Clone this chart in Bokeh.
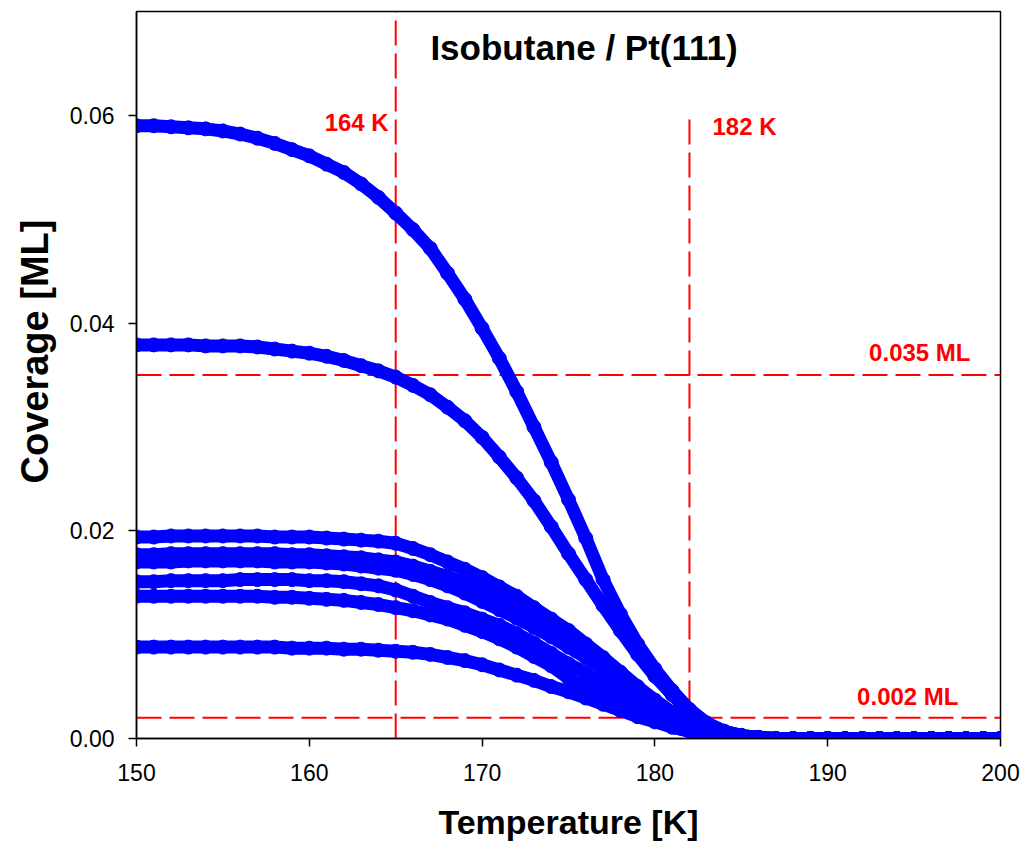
from bokeh.plotting import figure
from bokeh.models import Label, Title, FixedTicker, PrintfTickFormatter, Range1d, ColumnDataSource
from bokeh.embed import file_html
from bokeh.resources import INLINE

# ---- data ----
temperature = list(range(150, 201))  # K

zeros14 = [0.0] * 14  # 187 .. 200 K

cov_059 = [0.0590, 0.0590, 0.0589, 0.0588, 0.0587, 0.0585, 0.0582, 0.0578, 0.0573, 0.0567,
           0.0561, 0.0553, 0.0545, 0.0534, 0.0521, 0.0506, 0.0490, 0.0472, 0.0448, 0.0423,
           0.0395, 0.0366, 0.0334, 0.0300, 0.0266, 0.0230, 0.0193, 0.0153, 0.0120, 0.0091,
           0.0067, 0.0046, 0.0028, 0.0015, 0.0007, 0.0003, 0.0001] + zeros14
cov_038 = [0.0379, 0.0379, 0.0379, 0.0379, 0.0378, 0.0378, 0.0378, 0.0377, 0.0375, 0.0373,
           0.0371, 0.0368, 0.0364, 0.0359, 0.0354, 0.0348, 0.0340, 0.0331, 0.0319, 0.0306,
           0.0290, 0.0271, 0.0251, 0.0229, 0.0204, 0.0178, 0.0153, 0.0128, 0.0104, 0.0081,
           0.0060, 0.0042, 0.0026, 0.0014, 0.0007, 0.0003, 0.0001] + zeros14
cov_0194 = [0.0194, 0.0194, 0.0195, 0.0195, 0.0195, 0.0195, 0.0195, 0.0195, 0.0194, 0.0194,
            0.0194, 0.0193, 0.0192, 0.0191, 0.0190, 0.0188, 0.0183, 0.0177, 0.0170, 0.0163,
            0.0155, 0.0146, 0.0137, 0.0126, 0.0115, 0.0104, 0.0091, 0.0078, 0.0064, 0.0050,
            0.0037, 0.0025, 0.0015, 0.0008, 0.0004, 0.0002, 0.0001] + zeros14
cov_0177 = [0.0177, 0.0177, 0.0178, 0.0178, 0.0178, 0.0178, 0.0178, 0.0178, 0.0178, 0.0177,
            0.0177, 0.0176, 0.0175, 0.0174, 0.0172, 0.0170, 0.0166, 0.0161, 0.0156, 0.0150,
            0.0144, 0.0137, 0.0129, 0.0120, 0.0110, 0.0099, 0.0087, 0.0075, 0.0062, 0.0049,
            0.0036, 0.0025, 0.0015, 0.0008, 0.0004, 0.0002, 0.0001] + zeros14
cov_0170 = [0.0170, 0.0170, 0.0170, 0.0171, 0.0171, 0.0171, 0.0171, 0.0171, 0.0170, 0.0170,
            0.0170, 0.0169, 0.0168, 0.0166, 0.0164, 0.0162, 0.0158, 0.0153, 0.0147, 0.0140,
            0.0132, 0.0124, 0.0116, 0.0107, 0.0098, 0.0088, 0.0078, 0.0067, 0.0055, 0.0043,
            0.0032, 0.0022, 0.0014, 0.0008, 0.0004, 0.0002, 0.0001] + zeros14
cov_0151 = [0.0151, 0.0151, 0.0152, 0.0152, 0.0152, 0.0152, 0.0153, 0.0153, 0.0153, 0.0153,
            0.0152, 0.0152, 0.0151, 0.0149, 0.0147, 0.0143, 0.0137, 0.0131, 0.0126, 0.0121,
            0.0115, 0.0109, 0.0101, 0.0092, 0.0082, 0.0072, 0.0063, 0.0053, 0.0043, 0.0033,
            0.0024, 0.0016, 0.0010, 0.0005, 0.0002, 0.0001, 0.0000] + zeros14
cov_0137 = [0.0137, 0.0137, 0.0137, 0.0137, 0.0137, 0.0137, 0.0137, 0.0137, 0.0136, 0.0136,
            0.0135, 0.0134, 0.0133, 0.0131, 0.0129, 0.0126, 0.0123, 0.0119, 0.0115, 0.0109,
            0.0103, 0.0096, 0.0088, 0.0079, 0.0070, 0.0058, 0.0049, 0.0041, 0.0032, 0.0024,
            0.0017, 0.0011, 0.0007, 0.0004, 0.0002, 0.0001, 0.0000] + zeros14
cov_0088 = [0.0088, 0.0088, 0.0088, 0.0088, 0.0088, 0.0088, 0.0088, 0.0088, 0.0088, 0.0087,
            0.0087, 0.0087, 0.0086, 0.0086, 0.0085, 0.0084, 0.0083, 0.0081, 0.0078, 0.0075,
            0.0071, 0.0066, 0.0061, 0.0056, 0.0050, 0.0045, 0.0039, 0.0033, 0.0027, 0.0021,
            0.0016, 0.0011, 0.0007, 0.0004, 0.0002, 0.0001, 0.0000] + zeros14

series = [cov_059, cov_038, cov_0194, cov_0177, cov_0170, cov_0151, cov_0137, cov_0088]

# reference markers
ref_temps = [165, 182]
ref_temp_tops = [0.07, 0.06]
ref_temp_labels = ["164 K", "182 K"]
ref_covs = [0.035, 0.002]
ref_cov_labels = ["0.035 ML", "0.002 ML"]

x_ticks = [150, 160, 170, 180, 190, 200]
y_ticks = [0.00, 0.02, 0.04, 0.06]

title_text = "Isobutane / Pt(111)"
x_label = "Temperature [K]"
y_label = "Coverage [ML]"

FONT = "Liberation Sans"
BLUE = "#0000FF"
RED = "#FF0000"

p = figure(width=1035, height=848,
           x_range=Range1d(150, 200), y_range=Range1d(0, 0.07),
           output_backend="svg", toolbar_location=None,
           min_border_left=135, min_border_right=35,
           min_border_top=11, min_border_bottom=110)
p.grid.visible = False
p.background_fill_color = "white"
p.border_fill_color = "white"
p.outline_line_color = "black"
p.outline_line_width = 1.5

for ax in (p.xaxis[0], p.yaxis[0]):
    ax.axis_line_color = "black"
    ax.axis_line_width = 1.5
    ax.major_tick_line_color = "black"
    ax.major_tick_line_width = 1.5
    ax.major_tick_out = 8
    ax.major_tick_in = 0
    ax.minor_tick_line_color = None
    ax.major_label_text_font = FONT
    ax.major_label_text_font_size = "23px"
    ax.major_label_text_color = "black"

p.xaxis.ticker = FixedTicker(ticks=x_ticks)
p.yaxis.ticker = FixedTicker(ticks=y_ticks)
p.yaxis.formatter = PrintfTickFormatter(format="%.2f")
p.xaxis.major_label_standoff = 17
p.yaxis.major_label_standoff = 14

# x axis title
p.xaxis.axis_label = x_label
p.xaxis.axis_label_standoff = 19
p.xaxis.axis_label_text_font = FONT
p.xaxis.axis_label_text_font_size = "34px"
p.xaxis.axis_label_text_font_style = "bold"
p.xaxis.axis_label_text_color = "black"

# y axis title as a side panel (aligned from the bottom so it can be raised)
p.add_layout(Title(text=y_label, align="left", offset=255, standoff=22,
                   text_font=FONT, text_font_size="38px", text_font_style="bold",
                   text_color="black"), "left")

# reference lines
p.segment(x0=ref_temps, y0=[0, 0], x1=ref_temps, y1=ref_temp_tops,
          line_color=RED, line_width=2, line_dash="25 8")
p.segment(x0=[150, 150], y0=ref_covs, x1=[200, 200], y1=ref_covs,
          line_color=RED, line_width=2, line_dash="25 8")

# data curves
for vals in series:
    src = ColumnDataSource(dict(t=temperature, c=vals))
    p.line("t", "c", source=src, line_color=BLUE, line_width=13,
           line_join="round", line_cap="round")
    p.scatter("t", "c", source=src, size=14, fill_color=BLUE,
              line_color=BLUE, marker="circle")

# annotations
p.add_layout(Label(x=175.9, y=0.0665, text=title_text, text_align="center",
                   text_baseline="middle", text_font=FONT, text_font_size="35px",
                   text_font_style="bold", text_color="black"))
p.add_layout(Label(x=ref_temps[0], y=0.0593, x_offset=-7, text=ref_temp_labels[0],
                   text_align="right", text_baseline="middle", text_font=FONT,
                   text_font_size="24px", text_font_style="bold", text_color=RED))
p.add_layout(Label(x=ref_temps[1], y=0.0589, x_offset=23, text=ref_temp_labels[1],
                   text_align="left", text_baseline="middle", text_font=FONT,
                   text_font_size="24px", text_font_style="bold", text_color=RED))
p.add_layout(Label(x=200, y=0.0372, x_offset=-30, text=ref_cov_labels[0],
                   text_align="right", text_baseline="middle", text_font=FONT,
                   text_font_size="24px", text_font_style="bold", text_color=RED))
p.add_layout(Label(x=200, y=0.00405, x_offset=-42, text=ref_cov_labels[1],
                   text_align="right", text_baseline="middle", text_font=FONT,
                   text_font_size="24px", text_font_style="bold", text_color=RED))

open("out.html", "w").write(file_html(p, INLINE))
